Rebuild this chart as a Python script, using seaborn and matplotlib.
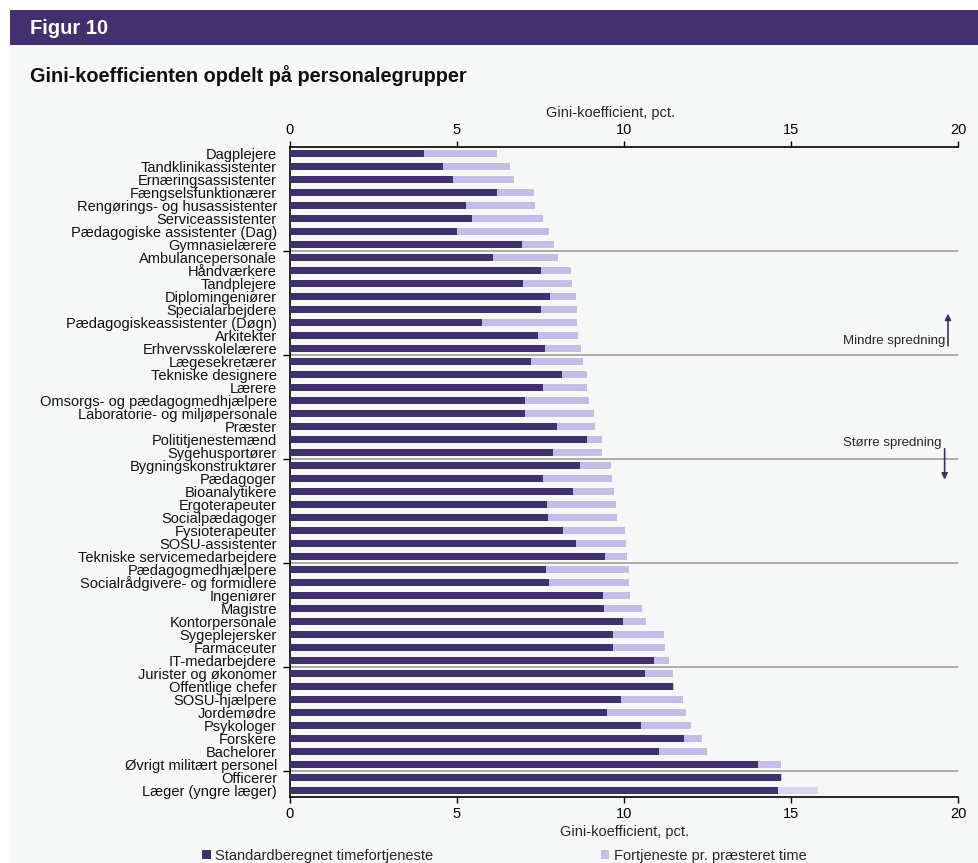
import matplotlib
matplotlib.use("Agg")
import matplotlib.pyplot as plt
from matplotlib.patches import Rectangle, Patch
import seaborn as sns
import pandas as pd

# Personnel groups, top to bottom
groups = [
    "Dagplejere", "Tandklinikassistenter", "Ernæringsassistenter", "Fængselsfunktionærer",
    "Rengørings- og husassistenter", "Serviceassistenter", "Pædagogiske assistenter (Dag)",
    "Gymnasielærere", "Ambulancepersonale", "Håndværkere", "Tandplejere", "Diplomingeniører",
    "Specialarbejdere", "Pædagogiskeassistenter (Døgn)", "Arkitekter", "Erhvervsskolelærere",
    "Lægesekretærer", "Tekniske designere", "Lærere", "Omsorgs- og pædagogmedhjælpere",
    "Laboratorie- og miljøpersonale", "Præster", "Polititjenestemænd", "Sygehusportører",
    "Bygningskonstruktører", "Pædagoger", "Bioanalytikere", "Ergoterapeuter",
    "Socialpædagoger", "Fysioterapeuter", "SOSU-assistenter", "Tekniske servicemedarbejdere",
    "Pædagogmedhjælpere", "Socialrådgivere- og formidlere", "Ingeniører", "Magistre",
    "Kontorpersonale", "Sygeplejersker", "Farmaceuter", "IT-medarbejdere",
    "Jurister og økonomer", "Offentlige chefer", "SOSU-hjælpere", "Jordemødre",
    "Psykologer", "Forskere", "Bachelorer", "Øvrigt militært personel",
    "Officerer", "Læger (yngre læger)",
]

# Gini coefficient (pct.), standard hourly earnings
standard = [
    4.01, 4.59, 4.88, 6.21, 5.27, 5.45, 5.01, 6.96,
    6.07, 7.50, 6.99, 7.78, 7.50, 5.74, 7.43, 7.63,
    7.23, 8.13, 7.57, 7.05, 7.05, 7.99, 8.89, 7.86,
    8.68, 7.57, 8.46, 7.69, 7.72, 8.18, 8.57, 9.43,
    7.66, 7.75, 9.37, 9.39, 9.98, 9.66, 9.68, 10.91,
    10.62, 11.47, 9.90, 9.50, 10.50, 11.81, 11.04, 14.01,
    14.70, 14.61,
]

# Gini coefficient (pct.), earnings per hour worked
per_hour = [
    6.21, 6.59, 6.70, 7.32, 7.34, 7.56, 7.74, 7.89,
    8.03, 8.41, 8.44, 8.55, 8.58, 8.60, 8.62, 8.70,
    8.76, 8.88, 8.90, 8.95, 9.10, 9.13, 9.33, 9.33,
    9.61, 9.63, 9.69, 9.75, 9.78, 10.02, 10.05, 10.09,
    10.16, 10.16, 10.17, 10.55, 10.66, 11.21, 11.23, 11.35,
    11.47, 11.49, 11.77, 11.87, 12.01, 12.34, 12.48, 14.69,
    14.73, 15.82,
]

x_ticks = [0, 5, 10, 15, 20]

DARK = "#41306c"
LIGHT = "#c5bde6"
PALE = "#dcd7f0"
PANEL = "#f6f8f8"

df = pd.DataFrame({"gruppe": groups, "standard": standard, "per_hour": per_hour})

sns.set_theme(style="white")
plt.rcParams["font.family"] = ["Liberation Sans", "DejaVu Sans"]

fig = plt.figure(figsize=(9.79, 8.63), dpi=100, facecolor="white")

# panel background and header band
fig.patches.append(Rectangle((10 / 979, 0), 1, 1 - 45 / 863, transform=fig.transFigure,
                             facecolor=PANEL, edgecolor="none", zorder=-10))
fig.patches.append(Rectangle((10 / 979, 1 - 45 / 863), 1, 35 / 863, transform=fig.transFigure,
                             facecolor="#432f6d", edgecolor="none", zorder=-10))
fig.text(30 / 979, 1 - 28 / 863, "Figur 10", color="white", fontsize=14.5,
         fontweight="bold", va="center", ha="left")
fig.text(30 / 979, 1 - 76 / 863, "Gini-koefficienten opdelt på personalegrupper",
         fontsize=14.3, fontweight="bold", va="center", ha="left", color="#111111")

ax = fig.add_axes([290 / 979, 1 - 797 / 863, 668 / 979, 650 / 863])
ax.set_facecolor(PANEL)

sns.barplot(data=df, x="per_hour", y="gruppe", color=LIGHT, saturation=1,
            width=0.48, orient="h", ax=ax, zorder=2, linewidth=0)
n_light = len(ax.patches)
ax.patches[n_light - 1].set_facecolor(PALE)
sns.barplot(data=df, x="standard", y="gruppe", color=DARK, saturation=1,
            width=0.48, orient="h", ax=ax, zorder=3, linewidth=0)

ax.set_xlim(0, 20)
ax.set_ylim(len(groups) - 0.5, -0.5)
ax.set_xticks(x_ticks)
ax.set_xticklabels([str(t) for t in x_ticks])
ax.tick_params(axis="x", which="major", direction="out", length=4, width=1,
               colors="black", labelsize=10.5, top=True, labeltop=True,
               bottom=True, labelbottom=True, pad=3)
ax.tick_params(axis="y", which="major", length=0, labelsize=10.5, pad=9.4)
ax.set_yticks(range(len(groups)))
ax.set_yticklabels(groups, color="#111111")

# group separators
seps = [7.5, 15.5, 23.5, 31.5, 39.5, 47.5]
ax.set_yticks(seps, minor=True)
ax.tick_params(axis="y", which="minor", direction="out", length=5, width=1,
               color="black", left=True)
ax.grid(axis="y", which="minor", color="#9a9a9a", linewidth=1.1, zorder=1)
ax.grid(axis="y", which="major", visible=False)
ax.grid(axis="x", visible=False)

ax.set_xlabel("Gini-koefficient, pct.", fontsize=10.5, labelpad=3)
ax.set_ylabel("")
# axis title above the top tick labels
ax.text(0.4805, 1.052, "Gini-koefficient, pct.", transform=ax.transAxes,
        ha="center", va="center", fontsize=10.5)

for side in ["left", "top", "bottom"]:
    ax.spines[side].set_visible(True)
    ax.spines[side].set_color("black")
    ax.spines[side].set_linewidth(1.2)
ax.spines["right"].set_visible(False)

# direction markers on the right
ax.text(19.62, 14.4, "Mindre spredning", ha="right", va="center", fontsize=9.5, zorder=5)
ax.annotate("", xy=(19.7, 12.1), xytext=(19.7, 15.0),
            arrowprops=dict(arrowstyle="-|>", color=DARK, lw=1.2, mutation_scale=9),
            zorder=5)
ax.text(19.52, 22.3, "Større spredning", ha="right", va="center", fontsize=9.5, zorder=5)
ax.annotate("", xy=(19.6, 25.3), xytext=(19.6, 22.5),
            arrowprops=dict(arrowstyle="-|>", color=DARK, lw=1.2, mutation_scale=9),
            zorder=5)

handles = [Patch(facecolor=DARK, edgecolor="none"), Patch(facecolor=LIGHT, edgecolor="none")]
fig.legend(handles, ["Standardberegnet timefortjeneste", "Fortjeneste pr. præsteret time"],
           loc="center", bbox_to_anchor=(0.515, 1 - 856 / 863), ncol=2, frameon=False,
           fontsize=10.5, handlelength=0.6, handleheight=0.6, handletextpad=0.3,
           columnspacing=11.5)

fig.savefig("out.png", dpi=100, facecolor="white")
